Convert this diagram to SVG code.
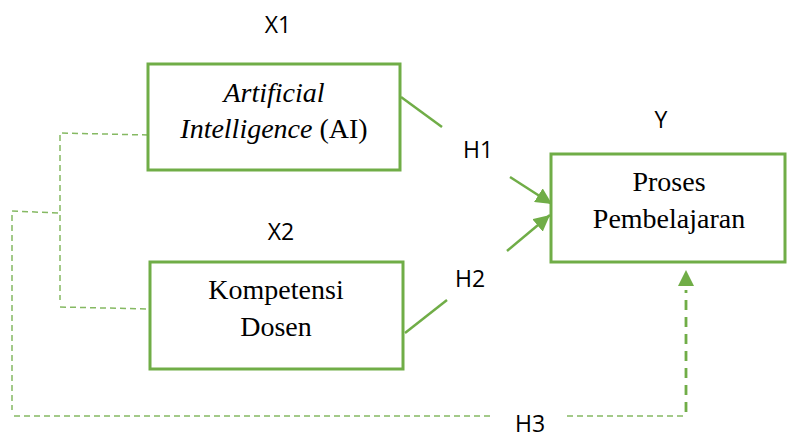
<svg xmlns="http://www.w3.org/2000/svg" width="791" height="439" viewBox="0 0 791 439">
<style>
.box{fill:#fff;stroke:#70AD47;stroke-width:3}
.serif{font-family:"Liberation Serif","Times New Roman",serif;font-size:28px;fill:#000;text-anchor:middle}
.lbl{font-family:"Open Sans","Liberation Sans",sans-serif;font-size:23px;fill:#000;text-anchor:middle}
.ln{stroke:#70AD47;stroke-width:2.5;fill:none}
.dash{stroke:#70AD47;stroke-width:1.5;fill:none;stroke-dasharray:6 4;opacity:0.85}
.dash2{stroke:#70AD47;stroke-width:2.8;fill:none;stroke-dasharray:10 7}
</style>
<defs>
<marker id="ah" viewBox="0 0 10 10" refX="10" refY="5" markerWidth="6.5" markerHeight="6.5" markerUnits="strokeWidth" orient="auto">
<path d="M0,0 L10,5 L0,10 z" fill="#70AD47"/>
</marker>
</defs>
<g id="connectors">
<path class="ln" d="M401,97 L442,127"/>
<path class="ln" d="M510,177 L552,204" marker-end="url(#ah)"/>
<path class="ln" d="M405,333 L447,300"/>
<path class="ln" d="M507,251 L550,215" marker-end="url(#ah)"/>
<path class="dash" d="M148,135 L60,133 L60,300"/>
<path class="dash" d="M60,307 L149,309"/>
<path class="dash" d="M58,213 L12,211 L12,410"/>
<path class="dash" d="M14,416 L493,416"/>
<path class="dash" d="M567,416 L684,416"/>
<path class="dash2" d="M686,412 L686,290"/>
<path d="M686,270 L694,286 L678,286 z" fill="#70AD47"/>
</g>
<g id="x1">
<rect class="box" x="148" y="64" width="252" height="106"/>
<text class="serif" x="274" y="102" font-style="italic">Artificial</text>
<text class="serif" x="274" y="138"><tspan font-style="italic">Intelligence</tspan> (AI)</text>
<text class="lbl" x="278" y="33">X1</text>
</g>
<g id="x2">
<rect class="box" x="150" y="262" width="253" height="107"/>
<text class="serif" x="276" y="299">Kompetensi</text>
<text class="serif" x="276" y="336">Dosen</text>
<text class="lbl" x="281" y="240">X2</text>
</g>
<g id="y">
<rect class="box" x="551" y="154" width="234" height="108"/>
<text class="serif" x="669" y="191">Proses</text>
<text class="serif" x="669" y="228">Pembelajaran</text>
<text class="lbl" x="661" y="128">Y</text>
</g>
<g id="labels">
<text class="lbl" x="478" y="158">H1</text>
<text class="lbl" x="470" y="287">H2</text>
<text class="lbl" x="530" y="432">H3</text>
</g>
</svg>
